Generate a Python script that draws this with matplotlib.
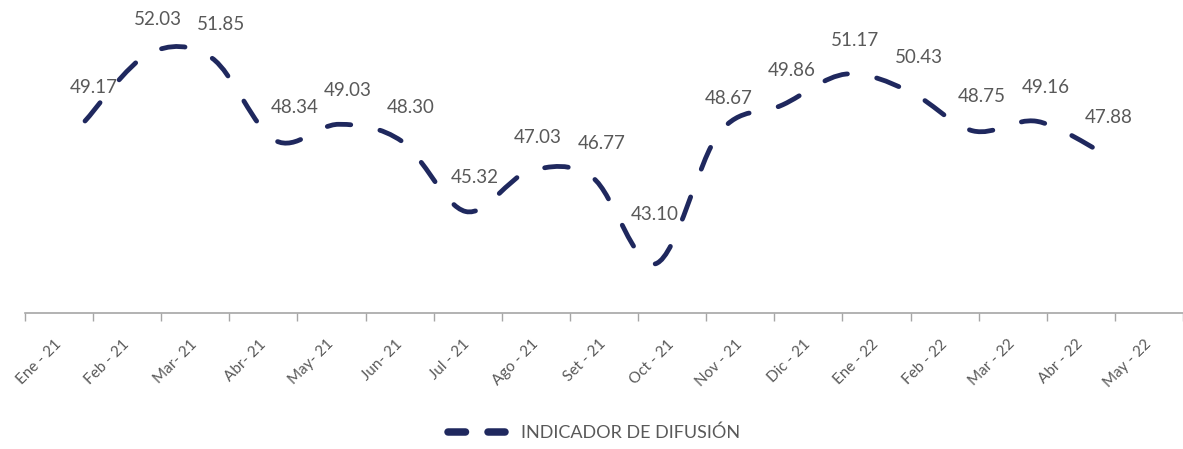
import numpy as np
import matplotlib
matplotlib.use("Agg")
import matplotlib.pyplot as plt
from matplotlib.path import Path
from matplotlib.patches import PathPatch
from matplotlib.lines import Line2D

plt.rcParams["font.family"] = ["Lato", "DejaVu Sans"]
plt.rcParams["lines.scale_dashes"] = False

months = ["Ene - 21", "Feb - 21", "Mar- 21", "Abr- 21", "May- 21", "Jun- 21",
          "Jul - 21", "Ago - 21", "Set - 21", "Oct - 21", "Nov - 21", "Dic - 21",
          "Ene - 22", "Feb - 22", "Mar - 22", "Abr - 22", "May - 22"]
difusion = [49.17, 52.03, 51.85, 48.34, 49.03, 48.30, 45.32, 47.03, 46.77,
            43.10, 48.67, 49.86, 51.17, 50.43, 48.75, 49.16, 47.88]
series_name = "INDICADOR DE DIFUSIÓN"

navy = "#1f285e"
grey_text = "#595959"
grey_axis = "#a6a6a6"

W, H = 1183, 449
fig = plt.figure(figsize=(W / 100, H / 100), dpi=100)
rect = [25 / W, (H - 313) / H, 1158 / W, 313 / H]

# category axis (ticks between months, labels centred)
ax = fig.add_axes(rect)
ax.set_xlim(-0.5, len(months) - 0.5)
ax.set_ylim(0, 1)
for side in ["top", "left", "right"]:
    ax.spines[side].set_visible(False)
ax.spines["bottom"].set_color(grey_axis)
ax.spines["bottom"].set_linewidth(1.2)
ax.set_yticks([])
ax.set_xticks(np.arange(-0.5, len(months)))
ax.set_xticklabels([])
ax.set_xticks(np.arange(len(months)), minor=True)
ax.set_xticklabels(months, minor=True)
ax.tick_params(axis="x", which="major", length=6, width=1, color=grey_axis)
ax.tick_params(axis="x", which="minor", length=0, pad=21, labelsize=11,
               labelcolor=grey_text)
plt.setp(ax.get_xticklabels(minor=True), rotation=45, ha="right", va="center",
         rotation_mode="anchor")

# line axes
axl = fig.add_axes(rect, frameon=False)
axl.set_xlim(-0.946, 17.31)
axl.set_ylim(41.0, 54.32)
axl.axis("off")

x = np.arange(len(difusion), dtype=float)
y = np.array(difusion)
pts = np.column_stack([x, y])
verts = [pts[0]]
codes = [Path.MOVETO]
n = len(pts)
for i in range(n - 1):
    p0 = pts[max(i - 1, 0)]
    p1 = pts[i]
    p2 = pts[i + 1]
    p3 = pts[min(i + 2, n - 1)]
    c1 = p1 + (p2 - p0) / 6
    c2 = p2 - (p3 - p1) / 6
    verts += [c1, c2, p2]
    codes += [Path.CURVE4] * 3
patch = PathPatch(Path(verts, codes), fill=False, edgecolor=navy, lw=3.45,
                  linestyle=(0, (17.1, 21.4)), capstyle="round")
axl.add_patch(patch)

label_shift = {3: (19, 33), 9: (-1, 49)}
for i, v in enumerate(difusion):
    dx, dy = label_shift.get(i, (9, 34))
    axl.annotate(f"{v:.2f}", (i, v), xytext=(dx, dy), textcoords="offset pixels",
                 ha="center", va="center", fontsize=13.5, color=grey_text)

handle = Line2D([], [], color=navy, lw=5.4, linestyle=(0, (12.6, 16.2)),
                dash_capstyle="round")
fig.legend([handle], [series_name], loc="center", bbox_to_anchor=(0.502, 16 / H),
           frameon=False, fontsize=13, labelcolor=grey_text, handlelength=3.18,
           handletextpad=0.85)

fig.savefig("out.png", dpi=100)
